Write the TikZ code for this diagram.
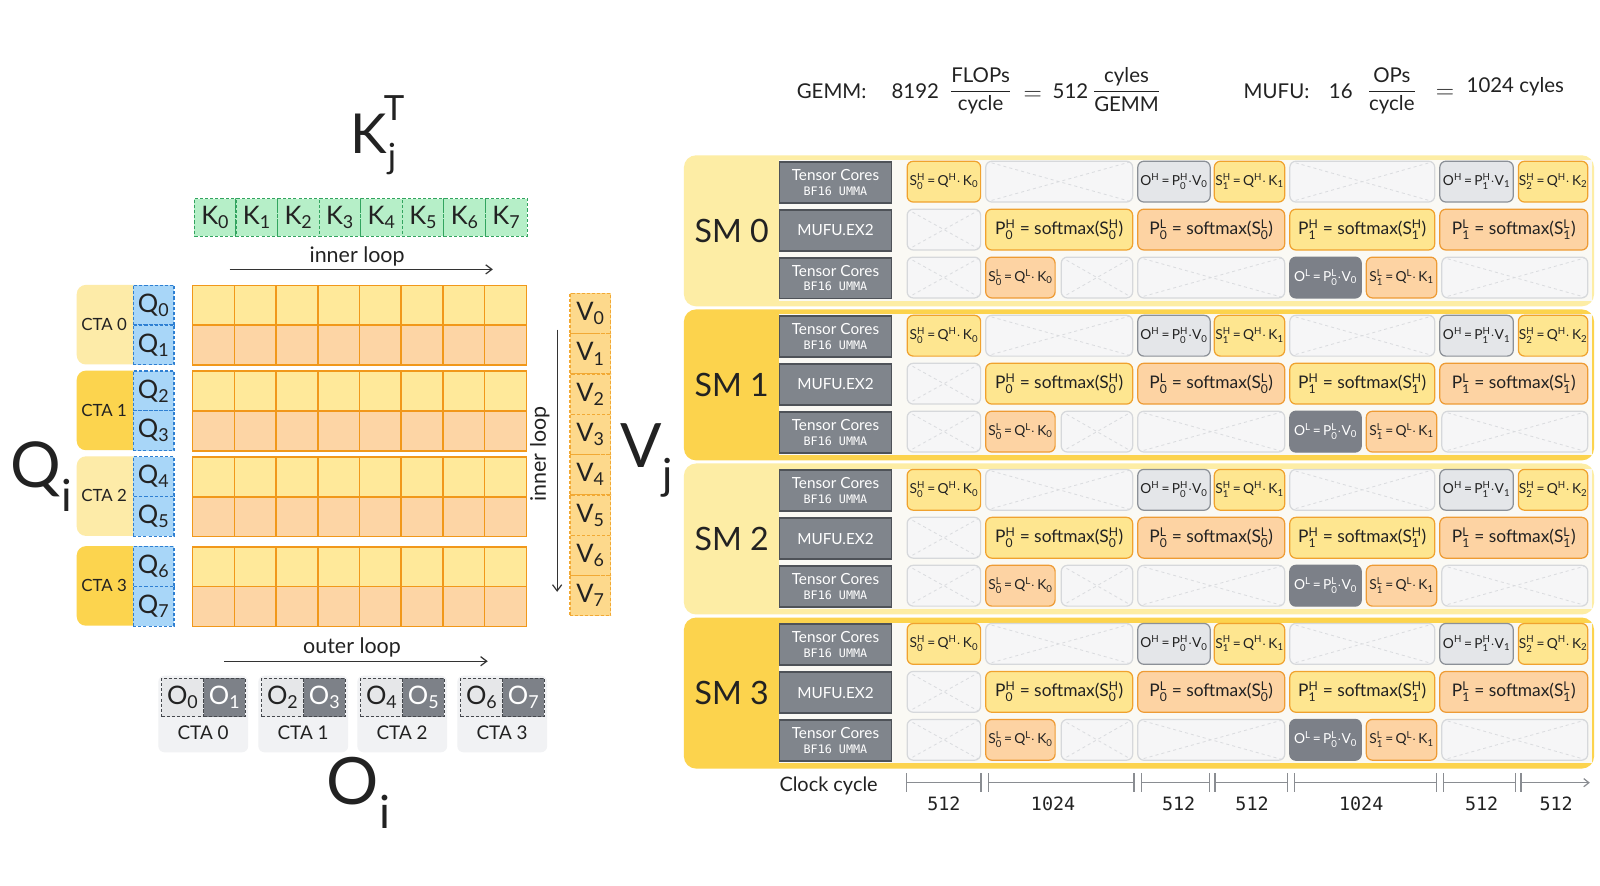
\documentclass[tikz,border=0pt]{standalone}
\usepackage{amsmath}
\usepackage{fontspec}
\setmainfont{Lato}
\setmonofont{DejaVu Sans Mono}
\usetikzlibrary{arrows.meta}
\definecolor{ink}{HTML}{222222}
\definecolor{arrc}{HTML}{333333}
\definecolor{panL}{HTML}{FDEDA5}
\definecolor{panD}{HTML}{FCD34D}
\definecolor{ctaL}{HTML}{FDEBA8}
\definecolor{ctaD}{HTML}{FCD44E}
\definecolor{innerc}{HTML}{FAF9F4}
\definecolor{cellY}{HTML}{FEE690}
\definecolor{cellYb}{HTML}{F0A22E}
\definecolor{cellO}{HTML}{FDD3A3}
\definecolor{cellOb}{HTML}{EE9B34}
\definecolor{cellG}{HTML}{E4E6E9}
\definecolor{cellGb}{HTML}{8B9097}
\definecolor{cellD}{HTML}{7C8088}
\definecolor{cellX}{HTML}{F6F6F7}
\definecolor{cellXb}{HTML}{D6D8DB}
\definecolor{cellXl}{HTML}{DADCDF}
\definecolor{unitc}{HTML}{80858C}
\definecolor{unitb}{HTML}{4E5258}
\definecolor{gridT}{HTML}{FFE99A}
\definecolor{gridB}{HTML}{FDD5A5}
\definecolor{gridL}{HTML}{F1981A}
\definecolor{kf}{HTML}{B6EFC8}
\definecolor{kb}{HTML}{32A45F}
\definecolor{qf}{HTML}{A8D6F8}
\definecolor{qb}{HTML}{2E7FD2}
\definecolor{vf}{HTML}{FDD98C}
\definecolor{vb}{HTML}{F2A934}
\definecolor{olc}{HTML}{E6E7E9}
\definecolor{odc}{HTML}{7D8188}
\definecolor{obd}{HTML}{45484D}
\definecolor{obgc}{HTML}{F1F2F4}
\definecolor{tlc}{HTML}{8A8D92}

\newcommand\vsb[3]{#1\ensuremath{^{\text{#3}}_{\text{#2}}}}
\newcommand\vsub[2]{#1\ensuremath{_{\text{#2}}}}
\newcommand\vsup[2]{#1\ensuremath{^{\text{#2}}}}
\newcommand\mdot{\ensuremath{\cdot}}
\newcommand\fs[1]{\fontsize{#1}{#1}\selectfont}
\newcommand\tcell[6]{\node[#1, minimum width={#4-#3}, anchor=north west] (#2) at (#3,#5) {#6};}
\newcommand\unitTC{{\fs{15}Tensor Cores}\\[-1pt]{\ttfamily\fs{11.5}BF16 UMMA}}

\tikzset{
  every node/.style={text=ink},
  ftxt/.style={font=\fs{20}, inner sep=0pt},
  lbl/.style={font=\fs{21}, inner sep=0pt},
  big/.style={inner sep=0pt},
  arr/.style={draw=arrc, line width=1.2pt, -{Straight Barb[length=6pt,width=9pt]}},
  kcell/.style={fill=kf, draw=kb, dash pattern=on 3pt off 2pt, line width=1.1pt, minimum width=40.75pt, minimum height=37pt, inner sep=0pt, font=\fs{25}},
  qcell/.style={fill=qf, draw=qb, dash pattern=on 3pt off 2pt, line width=1.1pt, minimum width=40pt, minimum height=39pt, inner sep=0pt, font=\fs{25}},
  vcell/.style={fill=vf, draw=vb, dash pattern=on 3pt off 2pt, line width=1.1pt, minimum width=40pt, minimum height=39.5pt, inner sep=0pt, font=\fs{25}},
  ctabox/.style={rounded corners=9pt, minimum width=65pt, minimum height=78pt, inner sep=0pt},
  ctatxt/.style={font=\fs{16.5}, inner sep=0pt},
  ctatxt2/.style={font=\fs{18.5}, inner sep=0pt},
  gtop/.style={fill=gridT, draw=gridL, line width=1.6pt, minimum width=40.875pt, minimum height=39pt, inner sep=0pt},
  gbot/.style={fill=gridB, draw=gridL, line width=1.6pt, minimum width=40.875pt, minimum height=39pt, inner sep=0pt},
  obg/.style={fill=obgc, rounded corners=6pt, minimum width=88pt, minimum height=75pt, inner sep=0pt},
  olight/.style={fill=olc, draw=obd, dash pattern=on 3pt off 2pt, line width=1.1pt, minimum width=41pt, minimum height=38pt, inner sep=0pt, font=\fs{25}},
  odark/.style={fill=odc, draw=obd, dash pattern=on 3pt off 2pt, line width=1.1pt, minimum width=41pt, minimum height=38pt, inner sep=0pt, font=\fs{25}, text=white},
  panel/.style={rounded corners=12pt, minimum width=892pt, minimum height=148pt, inner sep=0pt},
  innerp/.style={fill=innerc, minimum width=797pt, minimum height=138pt, inner sep=0pt},
  smtxt/.style={font=\fs{31.5}, inner sep=0pt},
  unit/.style={fill=unitc, draw=unitb, line width=1.5pt, minimum width=110pt, minimum height=40pt, inner sep=0pt, text=white, align=center, font=\fs{15}},
  cellbase/.style={rounded corners=6pt, minimum height=40pt, inner sep=0pt, outer sep=0pt, line width=1.2pt, font=\fs{17}},
  tight/.style={font=\fs{13.5}},
  ycell/.style={cellbase, fill=cellY, draw=cellYb},
  ocell/.style={cellbase, fill=cellO, draw=cellOb},
  gcell/.style={cellbase, fill=cellG, draw=cellGb},
  dcell/.style={cellbase, fill=cellD, draw=cellD, text=white},
  xcell/.style={cellbase, fill=cellX, draw=cellXb, path picture={\draw[dashed, cellXl, line width=0.8pt] (path picture bounding box.north west) -- (path picture bounding box.south east) (path picture bounding box.south west) -- (path picture bounding box.north east);}},
  tl/.style={draw=tlc, line width=1.2pt, {Bar[width=18pt]}-{Bar[width=18pt]}},
  tlarr/.style={draw=tlc, line width=1.2pt, {Bar[width=18pt]}-{Straight Barb[length=5pt,width=8pt]}},
  num/.style={font=\ttfamily\fs{18}, inner sep=0pt},
}

\begin{document}
\begin{tikzpicture}[x=1pt,y=-1pt]
\useasboundingbox (0,0) rectangle (1568,867.3);
\fill[white] (0,0) rectangle (1568,867.3);

% ---------- top formula ----------
\node[ftxt] (gemm) at (815,89) {GEMM:};
\node[ftxt] (g8192) at (897,89) {8192};
\node[ftxt] (gfr1) at (961,89) {$\dfrac{\text{FLOPs}}{\text{cycle}}$};
\node[ftxt, font=\fs{28}] (geq) at (1012,94) {$=$};
\node[ftxt] (g512) at (1049,89) {512};
\node[ftxt] (gfr2) at (1104,88) {$\dfrac{\text{cyles}}{\text{GEMM}}$};
\node[ftxt] (mufu) at (1251,89) {MUFU:};
\node[ftxt] (m16) at (1314,89) {16};
\node[ftxt] (mfr) at (1364,89) {$\dfrac{\text{OPs}}{\text{cycle}}$};
\node[ftxt, font=\fs{28}] (meq) at (1416,92) {$=$};
\node[ftxt] (m1024) at (1485,85) {1024 cyles};

% ---------- left: K row ----------
\node[big, font=\fs{54}, anchor=base west] (KT) at (343,150) {K};
\node[big, font=\fs{34}, anchor=base west] (KTs) at (376,118) {T};
\node[big, font=\fs{34}, anchor=base west] (KTj) at (380,165) {j};
\foreach \n in {0,...,7}
  \node[kcell, anchor=north west] (k\n) at ({190+40.75*\n},194) {\vsub{K}{\n}};

\node[lbl] (ilt) at (350,251) {inner loop};
\coordinate (il1) at (225,264);
\coordinate (il2) at (483,264);
\draw[arr] (il1) -- (il2);

% ---------- grid with CTAs ----------
\foreach \bk/\ty/\cc in {0/279/ctaL,1/363/ctaD,2/447/ctaL,3/535/ctaD} {
  \pgfmathtruncatemacro\qa{2*\bk}
  \pgfmathtruncatemacro\qbb{2*\bk+1}
  \node[ctabox, fill=\cc, anchor=north west] (cta\bk) at (75,\ty) {};
  \node[ctatxt] (ctat\bk) at (102,\ty+39) {CTA \bk};
  \node[qcell, anchor=north west] (q\qa) at (130,\ty) {\vsub{Q}{\qa}};
  \node[qcell, anchor=north west] (q\qbb) at (130,\ty+39) {\vsub{Q}{\qbb}};
  \foreach \col in {0,...,7} {
    \node[gtop, anchor=north west] (g\bk-\col-t) at ({188+40.875*\col},\ty) {};
    \node[gbot, anchor=north west] (g\bk-\col-b) at ({188+40.875*\col},\ty+39) {};
  }
}

% ---------- V column ----------
\foreach \n in {0,...,7}
  \node[vcell, anchor=north west] (v\n) at (558,{287+39.5*\n}) {\vsub{V}{\n}};

\node[lbl, rotate=90] (ilv) at (529,445) {inner loop};
\coordinate (iv1) at (546,323);
\coordinate (iv2) at (546,580);
\draw[arr] (iv1) -- (iv2);

% ---------- big labels ----------
\node[big, font=\fs{60}, anchor=base west] (Vj) at (608,458) {\vsub{V}{j}};
\node[big, font=\fs{62}, anchor=base west] (Qi) at (10,478) {\vsub{Q}{i}};
\node[big, font=\fs{64}, anchor=base west] (Oi) at (320,788) {\vsub{O}{i}};

% ---------- outer loop and O ----------
\node[lbl] (olt) at (345,634) {outer loop};
\coordinate (ol1) at (220,648);
\coordinate (ol2) at (478,648);
\draw[arr] (ol1) -- (ol2);

\foreach \g/\x in {0/158,1/256,2/353,3/451} {
  \pgfmathtruncatemacro\oa{2*\g}
  \pgfmathtruncatemacro\ob{2*\g+1}
  \node[obg, anchor=north west] (ob\g) at (\x-3,662) {};
  \node[olight, anchor=north west] (o\oa) at (\x,664) {\vsub{O}{\oa}};
  \node[odark, anchor=north west] (o\ob) at (\x+41,664) {\vsub{O}{\ob}};
  \node[ctatxt2] (oc\g) at (\x+41,718) {CTA \g};
}

% ---------- right: SM panels ----------
\foreach \sm/\pc in {0/panL,1/panD,2/panL,3/panD} {
  \pgfmathsetmacro\Ty{152+151*\sm}
  \pgfmathsetmacro\ya{\Ty+6}
  \pgfmathsetmacro\yb{\Ty+53}
  \pgfmathsetmacro\yc{\Ty+100}
  \node[panel, fill=\pc, anchor=north west] (sm\sm) at (670,\Ty) {};
  \node[innerp, anchor=north west] (in\sm) at (763,\Ty+5) {};
  \node[smtxt] (smt\sm) at (717,\Ty+74) {SM \sm};
  \node[unit, anchor=north west] (u\sm-a) at (763,\ya) {\unitTC};
  \node[unit, anchor=north west] (u\sm-b) at (763,\yb) {MUFU.EX2};
  \node[unit, anchor=north west] (u\sm-c) at (763,\yc) {\unitTC};
  % row a: tensor cores H
  \tcell{ycell,tight}{a\sm-1}{889}{961}{\ya}{\vsb{S}{0}{H}\,=\,\vsup{Q}{H}\mdot\,\vsub{K}{0}}
  \tcell{xcell}{a\sm-2}{966}{1110}{\ya}{}
  \tcell{gcell,tight}{a\sm-3}{1115}{1186}{\ya}{\vsup{O}{H}\,=\,\vsb{P}{0}{H}\mdot\vsub{V}{0}}
  \tcell{ycell,tight}{a\sm-4}{1190}{1259}{\ya}{\vsb{S}{1}{H}\,=\,\vsup{Q}{H}\mdot\,\vsub{K}{1}}
  \tcell{xcell}{a\sm-5}{1264}{1406}{\ya}{}
  \tcell{gcell,tight}{a\sm-6}{1411}{1483}{\ya}{\vsup{O}{H}\,=\,\vsb{P}{1}{H}\mdot\vsub{V}{1}}
  \tcell{ycell,tight}{a\sm-7}{1488}{1556}{\ya}{\vsb{S}{2}{H}\,=\,\vsup{Q}{H}\mdot\,\vsub{K}{2}}
  % row b: MUFU
  \tcell{xcell}{b\sm-1}{889}{961}{\yb}{}
  \tcell{ycell}{b\sm-2}{966}{1110}{\yb}{\vsb{P}{0}{H} = softmax(\vsb{S}{0}{H})}
  \tcell{ocell}{b\sm-3}{1115}{1259}{\yb}{\vsb{P}{0}{L} = softmax(\vsb{S}{0}{L})}
  \tcell{ycell}{b\sm-4}{1264}{1406}{\yb}{\vsb{P}{1}{H} = softmax(\vsb{S}{1}{H})}
  \tcell{ocell}{b\sm-5}{1411}{1556}{\yb}{\vsb{P}{1}{L} = softmax(\vsb{S}{1}{L})}
  % row c: tensor cores L
  \tcell{xcell}{c\sm-1}{889}{961}{\yc}{}
  \tcell{ocell,tight}{c\sm-2}{966}{1034}{\yc}{\vsb{S}{0}{L}\,=\,\vsup{Q}{L}\mdot\,\vsub{K}{0}}
  \tcell{xcell}{c\sm-3}{1040}{1110}{\yc}{}
  \tcell{xcell}{c\sm-4}{1115}{1259}{\yc}{}
  \tcell{dcell,tight}{c\sm-5}{1264}{1334}{\yc}{\vsup{O}{L}\,=\,\vsb{P}{0}{L}\mdot\vsub{V}{0}}
  \tcell{ocell,tight}{c\sm-6}{1339}{1408}{\yc}{\vsb{S}{1}{L}\,=\,\vsup{Q}{L}\mdot\,\vsub{K}{1}}
  \tcell{xcell}{c\sm-7}{1413}{1556}{\yc}{}
}

% ---------- clock cycle ----------
\node[lbl, font=\fs{19.5}] (clk) at (812,770) {Clock cycle};
\foreach \s/\a/\e/\lx/\lab in {1/888/962/925/512,2/968/1112/1032/1024,3/1118/1186/1155/512,4/1190/1262/1227/512,5/1268/1408/1334/1024,6/1414/1486/1452/512} {
  \coordinate (ts\s) at (\a,767);
  \coordinate (te\s) at (\e,767);
  \draw[tl] (ts\s) -- (te\s);
  \node[num] (tn\s) at (\lx,788) {\lab};
}
\coordinate (ts7) at (1490,767);
\coordinate (te7) at (1558,767);
\draw[tlarr] (ts7) -- (te7);
\node[num] (tn7) at (1525,788) {512};
\end{tikzpicture}
\end{document}
